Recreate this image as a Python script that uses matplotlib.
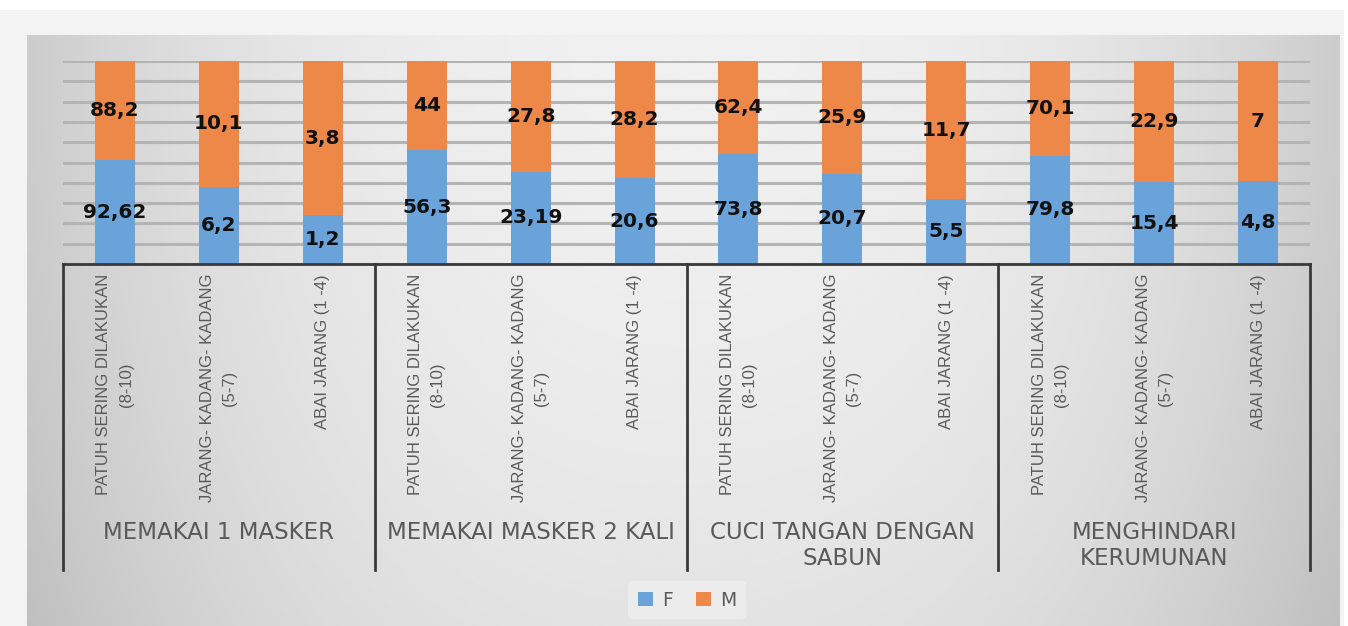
import numpy as np
import matplotlib.pyplot as plt
import matplotlib.transforms as mtransforms
from matplotlib.patches import Rectangle, Patch

# data
groups = ["MEMAKAI 1 MASKER", "MEMAKAI MASKER 2 KALI", "CUCI TANGAN DENGAN\nSABUN", "MENGHINDARI\nKERUMUNAN"]
levels = ["PATUH SERING DILAKUKAN\n(8-10)", "JARANG- KADANG- KADANG\n(5-7)", "ABAI JARANG (1 -4)"]
f_vals = [92.62, 6.2, 1.2, 56.3, 23.19, 20.6, 73.8, 20.7, 5.5, 79.8, 15.4, 4.8]
m_vals = [88.2, 10.1, 3.8, 44, 27.8, 28.2, 62.4, 25.9, 11.7, 70.1, 22.9, 7]

W, H = 1348, 626
fig = plt.figure(figsize=(W / 100, H / 100), dpi=100)
fig.patch.set_facecolor("white")
fig.patches.append(Rectangle((0, 0), 1344 / W, (H - 10) / H, transform=fig.transFigure,
                             facecolor="#f3f3f3", edgecolor="none", zorder=-3))

# chart area with soft gradient
bg = fig.add_axes([27 / W, 0, (1340 - 27) / W, (H - 35) / H], zorder=-2)
gx = np.linspace(-1, 1, 400)
gy = np.linspace(-1, 1, 200)
X, Y = np.meshgrid(gx, gy)
Z = 0.94 - 0.14 * (np.abs(X) ** 2.4) - 0.05 * (Y + 1) ** 2 / 4
bg.imshow(Z, cmap="gray", vmin=0, vmax=1, aspect="auto", extent=[0, 1, 0, 1], interpolation="bicubic")
bg.axis("off")

ax = fig.add_axes([63 / W, (H - 264) / H, (1310 - 63) / W, 203 / H])
ax.patch.set_alpha(0)

f = np.array(f_vals)
m = np.array(m_vals)
tot = f + m
x = np.arange(len(f))
fp = f / tot
mp = m / tot

blue = "#6aa3da"
orange = "#ed8848"
ax.bar(x, fp, width=0.385, color=blue, zorder=3)
ax.bar(x, mp, width=0.385, bottom=fp, color=orange, zorder=3)

for i in range(len(x)):
    ax.text(x[i], fp[i] / 2, f"{f_vals[i]:g}".replace(".", ","), ha="center", va="center",
            fontsize=14.5, fontweight="bold", color="#111111", zorder=4)
    ax.text(x[i], fp[i] + mp[i] / 2, f"{m_vals[i]:g}".replace(".", ","), ha="center", va="center",
            fontsize=14.5, fontweight="bold", color="#111111", zorder=4)

ax.set_xlim(-0.5, len(x) - 0.5)
ax.set_ylim(0, 1)
ax.set_yticks(np.arange(0, 1.01, 0.1))
ax.yaxis.grid(True, color="#b4b4b4", linewidth=2.2, zorder=0)
ax.tick_params(left=False, labelleft=False, bottom=False, labelbottom=False)
for s in ax.spines.values():
    s.set_visible(False)

# multi-level category axis
trans = mtransforms.blended_transform_factory(ax.transData, ax.transAxes)
ybot = (264 - 570) / 203
ax.plot([-0.5, len(x) - 0.5], [0, 0], color="#3a3a3a", lw=2, transform=trans, clip_on=False, zorder=5)
for b in np.arange(-0.5, len(x), 3):
    ax.plot([b, b], [0, ybot], color="#3a3a3a", lw=2, transform=trans, clip_on=False)

for i in range(len(x)):
    ax.text(x[i], (264 - 274) / 203, levels[i % 3], rotation=90, ha="center", va="top",
            multialignment="center", transform=trans, fontsize=12, color="#595959",
            family="Liberation Sans", linespacing=1.6)

for g, name in enumerate(groups):
    ax.text(3 * g + 1, (264 - 521) / 203, name, ha="center", va="top", transform=trans,
            fontsize=16.5, color="#595959", linespacing=1.15)

handles = [Patch(facecolor=blue, label="F"), Patch(facecolor=orange, label="M")]
leg = fig.legend(handles=handles, loc="center", bbox_to_anchor=(687 / W, 26 / H), ncol=2,
                 frameon=True, fontsize=13.5, handlelength=0.8, handleheight=0.7,
                 handletextpad=0.5, columnspacing=1.2, borderpad=0.5)
leg.get_frame().set_facecolor("#ececec")
leg.get_frame().set_edgecolor("none")
leg.get_frame().set_alpha(1)
for t in leg.get_texts():
    t.set_color("#595959")

fig.savefig("out.png", dpi=100)
